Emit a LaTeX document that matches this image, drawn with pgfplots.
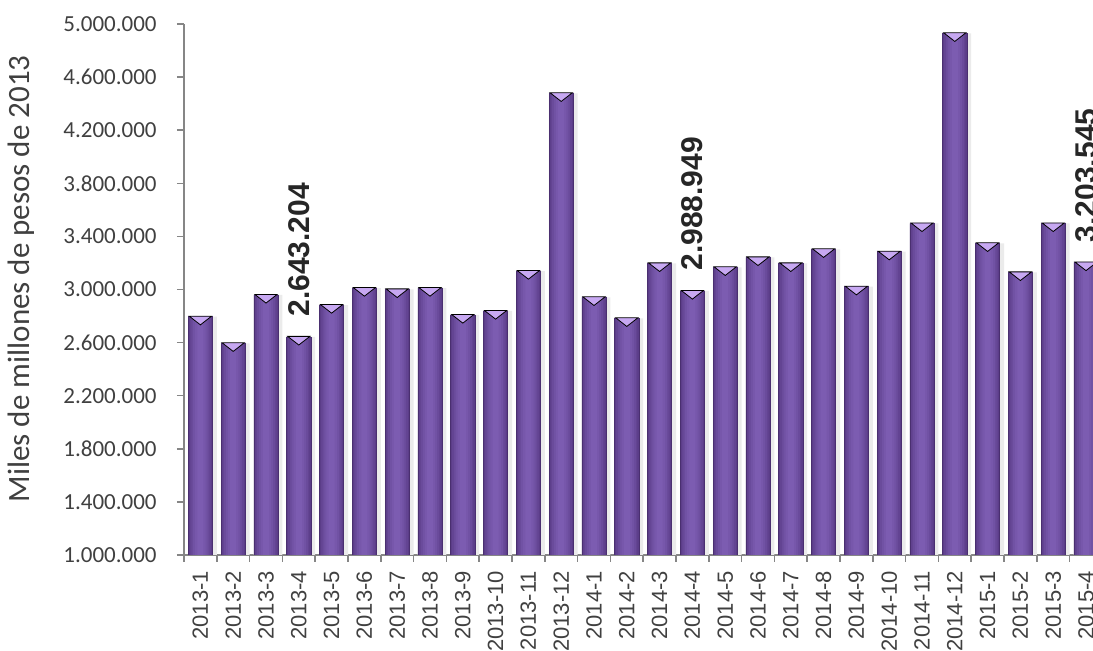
\documentclass[border=0pt]{standalone}
\usepackage{fontspec}
\setmainfont{Liberation Sans}
\newfontfamily\carlito{Carlito}
\usepackage{pgfplots}
\usepackage{pgfplotstable}
\pgfplotsset{compat=1.18}

\definecolor{barEdge}{HTML}{4A2F70}
\definecolor{barA}{HTML}{5B3D88}
\definecolor{barB}{HTML}{634492}
\definecolor{barC}{HTML}{6A4B9B}
\definecolor{barD}{HTML}{7152A4}
\definecolor{barE}{HTML}{7757AB}
\definecolor{barF}{HTML}{7C5CB1}
\definecolor{bevel}{HTML}{C7A8F2}
\definecolor{axisGray}{HTML}{868686}
\definecolor{txt}{HTML}{404040}
\definecolor{txtDark}{HTML}{262626}

% one layer of the rounded-looking bar: width and colour
\pgfplotsset{barlayer/.style 2 args={ybar, bar shift=0pt, bar width=#1, fill=#2, draw=none}}

% monthly values, one row per month (2013-1 ... 2015-4)
\pgfplotstableread{
idx val
0 2795000
1 2595000
2 2959000
3 2643204
4 2883000
5 3011000
6 3001000
7 3011000
8 2808000
9 2838000
10 3139000
11 4478000
12 2941000
13 2783000
14 3197000
15 2988949
16 3167000
17 3242000
18 3197000
19 3303000
20 3021000
21 3285000
22 3498000
23 4930000
24 3348000
25 3129000
26 3498000
27 3203545
}\montos

\begin{document}
\begin{tikzpicture}
\useasboundingbox (0,0) rectangle (546.5pt,325.5pt);
\begin{axis}[
    at={(92pt,48pt)}, anchor=south west,
    scale only axis,
    width=459.2pt, height=265.5pt,
    xmin=-0.5, xmax=27.5,
    ymin=1000000, ymax=5000000,
    axis x line*=bottom, axis y line*=left,
    axis line style={draw=axisGray, line width=0.75pt},
    tick align=outside,
    major tick length=3.5pt, minor tick length=3.5pt,
    tick style={draw=axisGray, line width=0.75pt},
    xtick={0,...,27},
    xticklabels={2013-1,2013-2,2013-3,2013-4,2013-5,2013-6,2013-7,2013-8,2013-9,2013-10,2013-11,2013-12,
                 2014-1,2014-2,2014-3,2014-4,2014-5,2014-6,2014-7,2014-8,2014-9,2014-10,2014-11,2014-12,
                 2015-1,2015-2,2015-3,2015-4},
    minor xtick={-0.5,0.5,...,27.5},
    major x tick style={draw=none},
    xticklabel style={yshift=-4.3pt, rotate=90, anchor=east, inner sep=0pt,
        font=\fontsize{11}{13}\selectfont, text=txt},
    ytick={1000000,1400000,...,5000000},
    scaled y ticks=false,
    yticklabel style={inner sep=0pt, xshift=-10pt,
        font=\carlito\fontsize{11.5}{13.8}\selectfont, text=txt,
        /pgf/number format/.cd, fixed, precision=0, 1000 sep={.}, assume math mode=true},
    ylabel={Miles de millones de pesos de 2013},
    every axis y label/.style={at={(axis description cs:-0.1775,0.52)}, rotate=90, anchor=center,
        font=\carlito\fontsize{15.5}{19}\selectfont, text=txt},
]

% soft shadow behind the bars
\addplot[ybar, bar width=14.4pt, bar shift=1pt, fill=black!8, draw=none]
    table[x=idx, y=val] {\montos};

% bars, built from narrowing layers so they look lit in the middle
\addplot[ybar, bar shift=0pt, bar width=12.15pt, fill=barA, draw=barEdge, line width=0.3pt]
    table[x=idx, y=val] {\montos};
\addplot[barlayer={10.6pt}{barB}] table[x=idx, y=val] {\montos};
\addplot[barlayer={9pt}{barC}] table[x=idx, y=val] {\montos};
\addplot[barlayer={7.2pt}{barD}] table[x=idx, y=val] {\montos};
\addplot[barlayer={5.2pt}{barE}] table[x=idx, y=val] {\montos};
\addplot[barlayer={3pt}{barF}] table[x=idx, y=val] {\montos};

% bevel on the top of each bar
\addplot[only marks, mark=triangle*, mark size=6.4pt,
    mark options={yshift=-1.2pt, yscale=-0.45, fill=bevel, draw=none}]
    table[x=idx, y=val] {\montos};

% data labels
\addplot[draw=none, mark=none, point meta=explicit symbolic, nodes near coords,
    every node near coord/.style={yshift=10pt, rotate=90, anchor=west, inner sep=0pt,
        font=\bfseries\fontsize{15}{18}\selectfont, text=txtDark}]
    coordinates {(3,2643204)[2.643.204] (15,2988949)[2.988.949] (27,3203545)[3.203.545]};

\end{axis}
\end{tikzpicture}
\end{document}
